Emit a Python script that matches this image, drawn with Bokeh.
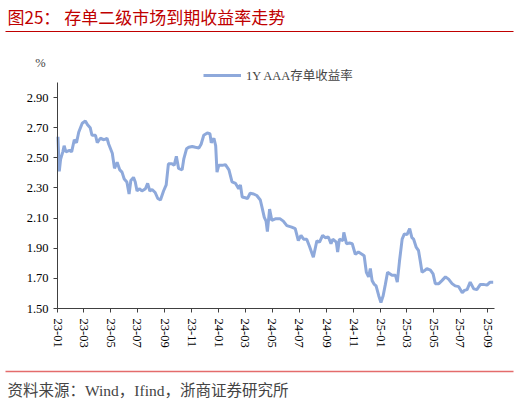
import pandas as pd
from bokeh.plotting import figure
from bokeh.models import (Range1d, FixedTicker, NumeralTickFormatter, DatetimeTickFormatter,
                          Label, BoxAnnotation, Legend, LegendItem)
from bokeh.embed import file_html
from bokeh.resources import INLINE

# 1Y AAA NCD yield (%)
dates = [
    "2023-01-02", "2023-01-05", "2023-01-08", "2023-01-13", "2023-01-16", "2023-01-20", "2023-01-28",
    "2023-02-02", "2023-02-08", "2023-02-13", "2023-02-18", "2023-02-26", "2023-03-05", "2023-03-10",
    "2023-03-16", "2023-03-20", "2023-03-28", "2023-04-01", "2023-04-08", "2023-04-16", "2023-04-23",
    "2023-04-27", "2023-05-05", "2023-05-10", "2023-05-16", "2023-05-22", "2023-05-27", "2023-06-01",
    "2023-06-07", "2023-06-12", "2023-06-16", "2023-06-22", "2023-06-26", "2023-06-30", "2023-07-06",
    "2023-07-11", "2023-07-19", "2023-07-24", "2023-07-29", "2023-08-03", "2023-08-10", "2023-08-16",
    "2023-08-22", "2023-08-29", "2023-09-04", "2023-09-09", "2023-09-17", "2023-09-22", "2023-09-27",
    "2023-10-02", "2023-10-10", "2023-10-14", "2023-10-20", "2023-10-25", "2023-11-02", "2023-11-09",
    "2023-11-17", "2023-11-22", "2023-11-28", "2023-12-06", "2023-12-12", "2023-12-15", "2023-12-21",
    "2023-12-25", "2023-12-28", "2024-01-01", "2024-01-09", "2024-01-16", "2024-01-24", "2024-01-31",
    "2024-02-08", "2024-02-15", "2024-02-19", "2024-02-23", "2024-03-01", "2024-03-06", "2024-03-12",
    "2024-03-20", "2024-03-27", "2024-04-04", "2024-04-08", "2024-04-13", "2024-04-17", "2024-04-20",
    "2024-04-25", "2024-04-30", "2024-05-08", "2024-05-19", "2024-05-26", "2024-06-03", "2024-06-14",
    "2024-06-22", "2024-06-29", "2024-07-05", "2024-07-11", "2024-07-18", "2024-07-24", "2024-08-02",
    "2024-08-10", "2024-08-16", "2024-08-23", "2024-08-29", "2024-09-05", "2024-09-11", "2024-09-15",
    "2024-09-23", "2024-09-26", "2024-09-30", "2024-10-08", "2024-10-10", "2024-10-16", "2024-10-23",
    "2024-10-29", "2024-11-05", "2024-11-12", "2024-11-20", "2024-11-25", "2024-11-30", "2024-12-05",
    "2024-12-09", "2024-12-13", "2024-12-18", "2024-12-22", "2024-12-28", "2025-01-02", "2025-01-07",
    "2025-01-12", "2025-01-17", "2025-01-22", "2025-01-27", "2025-02-04", "2025-02-08", "2025-02-13",
    "2025-02-19", "2025-02-24", "2025-03-02", "2025-03-08", "2025-03-13", "2025-03-17", "2025-03-23",
    "2025-03-28", "2025-04-01", "2025-04-05", "2025-04-10", "2025-04-16", "2025-04-24", "2025-04-30",
    "2025-05-05", "2025-05-13", "2025-05-20", "2025-05-28", "2025-06-04", "2025-06-12", "2025-06-19",
    "2025-06-27", "2025-07-05", "2025-07-10", "2025-07-16", "2025-07-23", "2025-07-31", "2025-08-07",
    "2025-08-15", "2025-08-22", "2025-08-30", "2025-09-06", "2025-09-13",
]
yields = [
    2.64, 2.41, 2.49, 2.54, 2.58, 2.54, 2.55,
    2.54, 2.62, 2.60, 2.67, 2.73, 2.745, 2.72,
    2.70, 2.65, 2.65, 2.60, 2.63, 2.62, 2.63,
    2.59, 2.53, 2.43, 2.47, 2.42, 2.405, 2.36,
    2.34, 2.26, 2.35, 2.37, 2.34, 2.28, 2.295,
    2.28, 2.295, 2.33, 2.28, 2.29, 2.27, 2.23,
    2.22, 2.28, 2.32, 2.46, 2.46, 2.45, 2.51,
    2.43, 2.42, 2.495, 2.56, 2.57, 2.575, 2.57,
    2.565, 2.59, 2.65, 2.665, 2.66, 2.60, 2.63,
    2.58, 2.405, 2.45, 2.45, 2.455, 2.42, 2.34,
    2.33, 2.295, 2.32, 2.24, 2.235, 2.23, 2.265,
    2.26, 2.25, 2.22, 2.17, 2.105, 2.08, 2.01,
    2.16, 2.085, 2.095, 2.095, 2.08, 2.05, 2.04,
    2.03, 1.95, 1.985, 1.96, 1.96, 1.915, 1.84,
    1.95, 1.94, 1.985, 1.97, 1.975, 1.93, 1.96,
    1.94, 1.875, 1.96, 1.95, 2.005, 1.93, 1.935,
    1.93, 1.86, 1.875, 1.86, 1.85, 1.74, 1.71,
    1.765, 1.685, 1.66, 1.65, 1.585, 1.54, 1.585,
    1.66, 1.74, 1.73, 1.72, 1.72, 1.675, 1.815,
    1.96, 1.995, 1.99, 2.03, 1.97, 1.96, 1.905,
    1.885, 1.815, 1.74, 1.75, 1.765, 1.755, 1.73,
    1.665, 1.665, 1.685, 1.71, 1.695, 1.665, 1.65,
    1.645, 1.605, 1.62, 1.625, 1.675, 1.63, 1.625,
    1.66, 1.66, 1.655, 1.675, 1.675,
]
y_ticks = [1.5, 1.7, 1.9, 2.1, 2.3, 2.5, 2.7, 2.9]
y_lo, y_hi = 1.5, 3.0
x_ticks = ["2023-01-01", "2023-03-01", "2023-05-01", "2023-07-01", "2023-09-01", "2023-11-01",
           "2024-01-01", "2024-03-01", "2024-05-01", "2024-07-01", "2024-09-01", "2024-11-01",
           "2025-01-01", "2025-03-01", "2025-05-01", "2025-07-01", "2025-09-01"]
x_lo, x_hi = "2023-01-01", "2025-09-16"

title_text = "图25： 存单二级市场到期收益率走势"
source_text = "资料来源：Wind，Ifind，浙商证券研究所"
series_name = "1Y AAA存单收益率"
unit_text = "%"

serif = "Liberation Serif, Noto Sans CJK SC"
cjk = "Noto Sans CJK SC"
line_color = "#8EA9DB"

# page geometry (px): the whole canvas is the frame, axes are pinned inside it
W, H = 520, 403
AX_L, AX_R, AX_T, AX_B = 57, 494, 82, 308

x = pd.to_datetime(dates)
tick_ms = [int(t.value // 10**6) for t in pd.to_datetime(x_ticks)]
t0 = pd.Timestamp(x_lo).value // 10**6
t1 = pd.Timestamp(x_hi).value // 10**6
ms_px = (t1 - t0) / (AX_R - AX_L)
v_px = (y_hi - y_lo) / (AX_B - AX_T)

p = figure(width=W, height=H, x_axis_type="datetime", output_backend="svg",
           toolbar_location=None, title=None, min_border=0,
           x_range=Range1d(t0 - AX_L * ms_px, t1 + (W - AX_R) * ms_px),
           y_range=Range1d(y_lo - (H - AX_B) * v_px, y_hi + AX_T * v_px))
p.outline_line_color = None
p.grid.visible = False

line = p.line(x, yields, line_width=3, color=line_color)

p.yaxis.ticker = FixedTicker(ticks=y_ticks)
p.yaxis.formatter = NumeralTickFormatter(format="0.00")
p.yaxis.fixed_location = t0
p.yaxis.bounds = (y_lo, y_hi)
p.xaxis.ticker = FixedTicker(ticks=tick_ms)
p.xaxis.formatter = DatetimeTickFormatter(years="%y-%m", months="%y-%m", days="%y-%m")
p.xaxis.major_label_orientation = "vertical"
p.xaxis.fixed_location = y_lo
p.xaxis.bounds = (t0, t1)
for ax in (p.xaxis, p.yaxis):
    ax.axis_line_color = "#404040"
    ax.major_tick_line_color = "#404040"
    ax.minor_tick_line_color = None
    ax.major_tick_in = 0
    ax.major_tick_out = 4
    ax.major_label_text_font = serif
    ax.major_label_text_font_size = "12.5px"
    ax.major_label_text_color = "black"
p.yaxis.major_label_standoff = 5
p.xaxis.major_label_standoff = 6

legend = Legend(items=[LegendItem(label=series_name, renderers=[line])],
                location=(203, H - 84), orientation="horizontal",
                border_line_color=None, background_fill_alpha=0,
                label_text_font=serif, label_text_font_size="12.5px",
                glyph_width=38, glyph_height=12, label_height=12,
                label_standoff=5, padding=0, margin=0)
p.add_layout(legend, "center")

# title, rules, unit and source (screen px from the bottom-left corner)
p.add_layout(Label(x=7, y=H - 16, x_units="screen", y_units="screen", text=title_text,
                   text_font=cjk, text_font_size="17px", text_color="#C00000",
                   text_baseline="middle"))
p.add_layout(BoxAnnotation(left=5, right=513, bottom=H - 31.6, top=H - 30.4,
                           left_units="screen", right_units="screen",
                           bottom_units="screen", top_units="screen",
                           fill_color="#C00000", fill_alpha=1, line_color=None))
p.add_layout(Label(x=40, y=H - 62, x_units="screen", y_units="screen", text=unit_text,
                   text_font=serif, text_font_size="12.5px",
                   text_align="center", text_baseline="middle"))
p.add_layout(BoxAnnotation(left=5, right=513, bottom=H - 371.8, top=H - 370.2,
                           left_units="screen", right_units="screen",
                           bottom_units="screen", top_units="screen",
                           fill_color="#E46C6C", fill_alpha=1, line_color=None))
p.add_layout(Label(x=7, y=H - 390, x_units="screen", y_units="screen", text=source_text,
                   text_font=serif, text_font_size="15.5px", text_baseline="middle"))

open("out.html", "w").write(file_html(p, INLINE))
